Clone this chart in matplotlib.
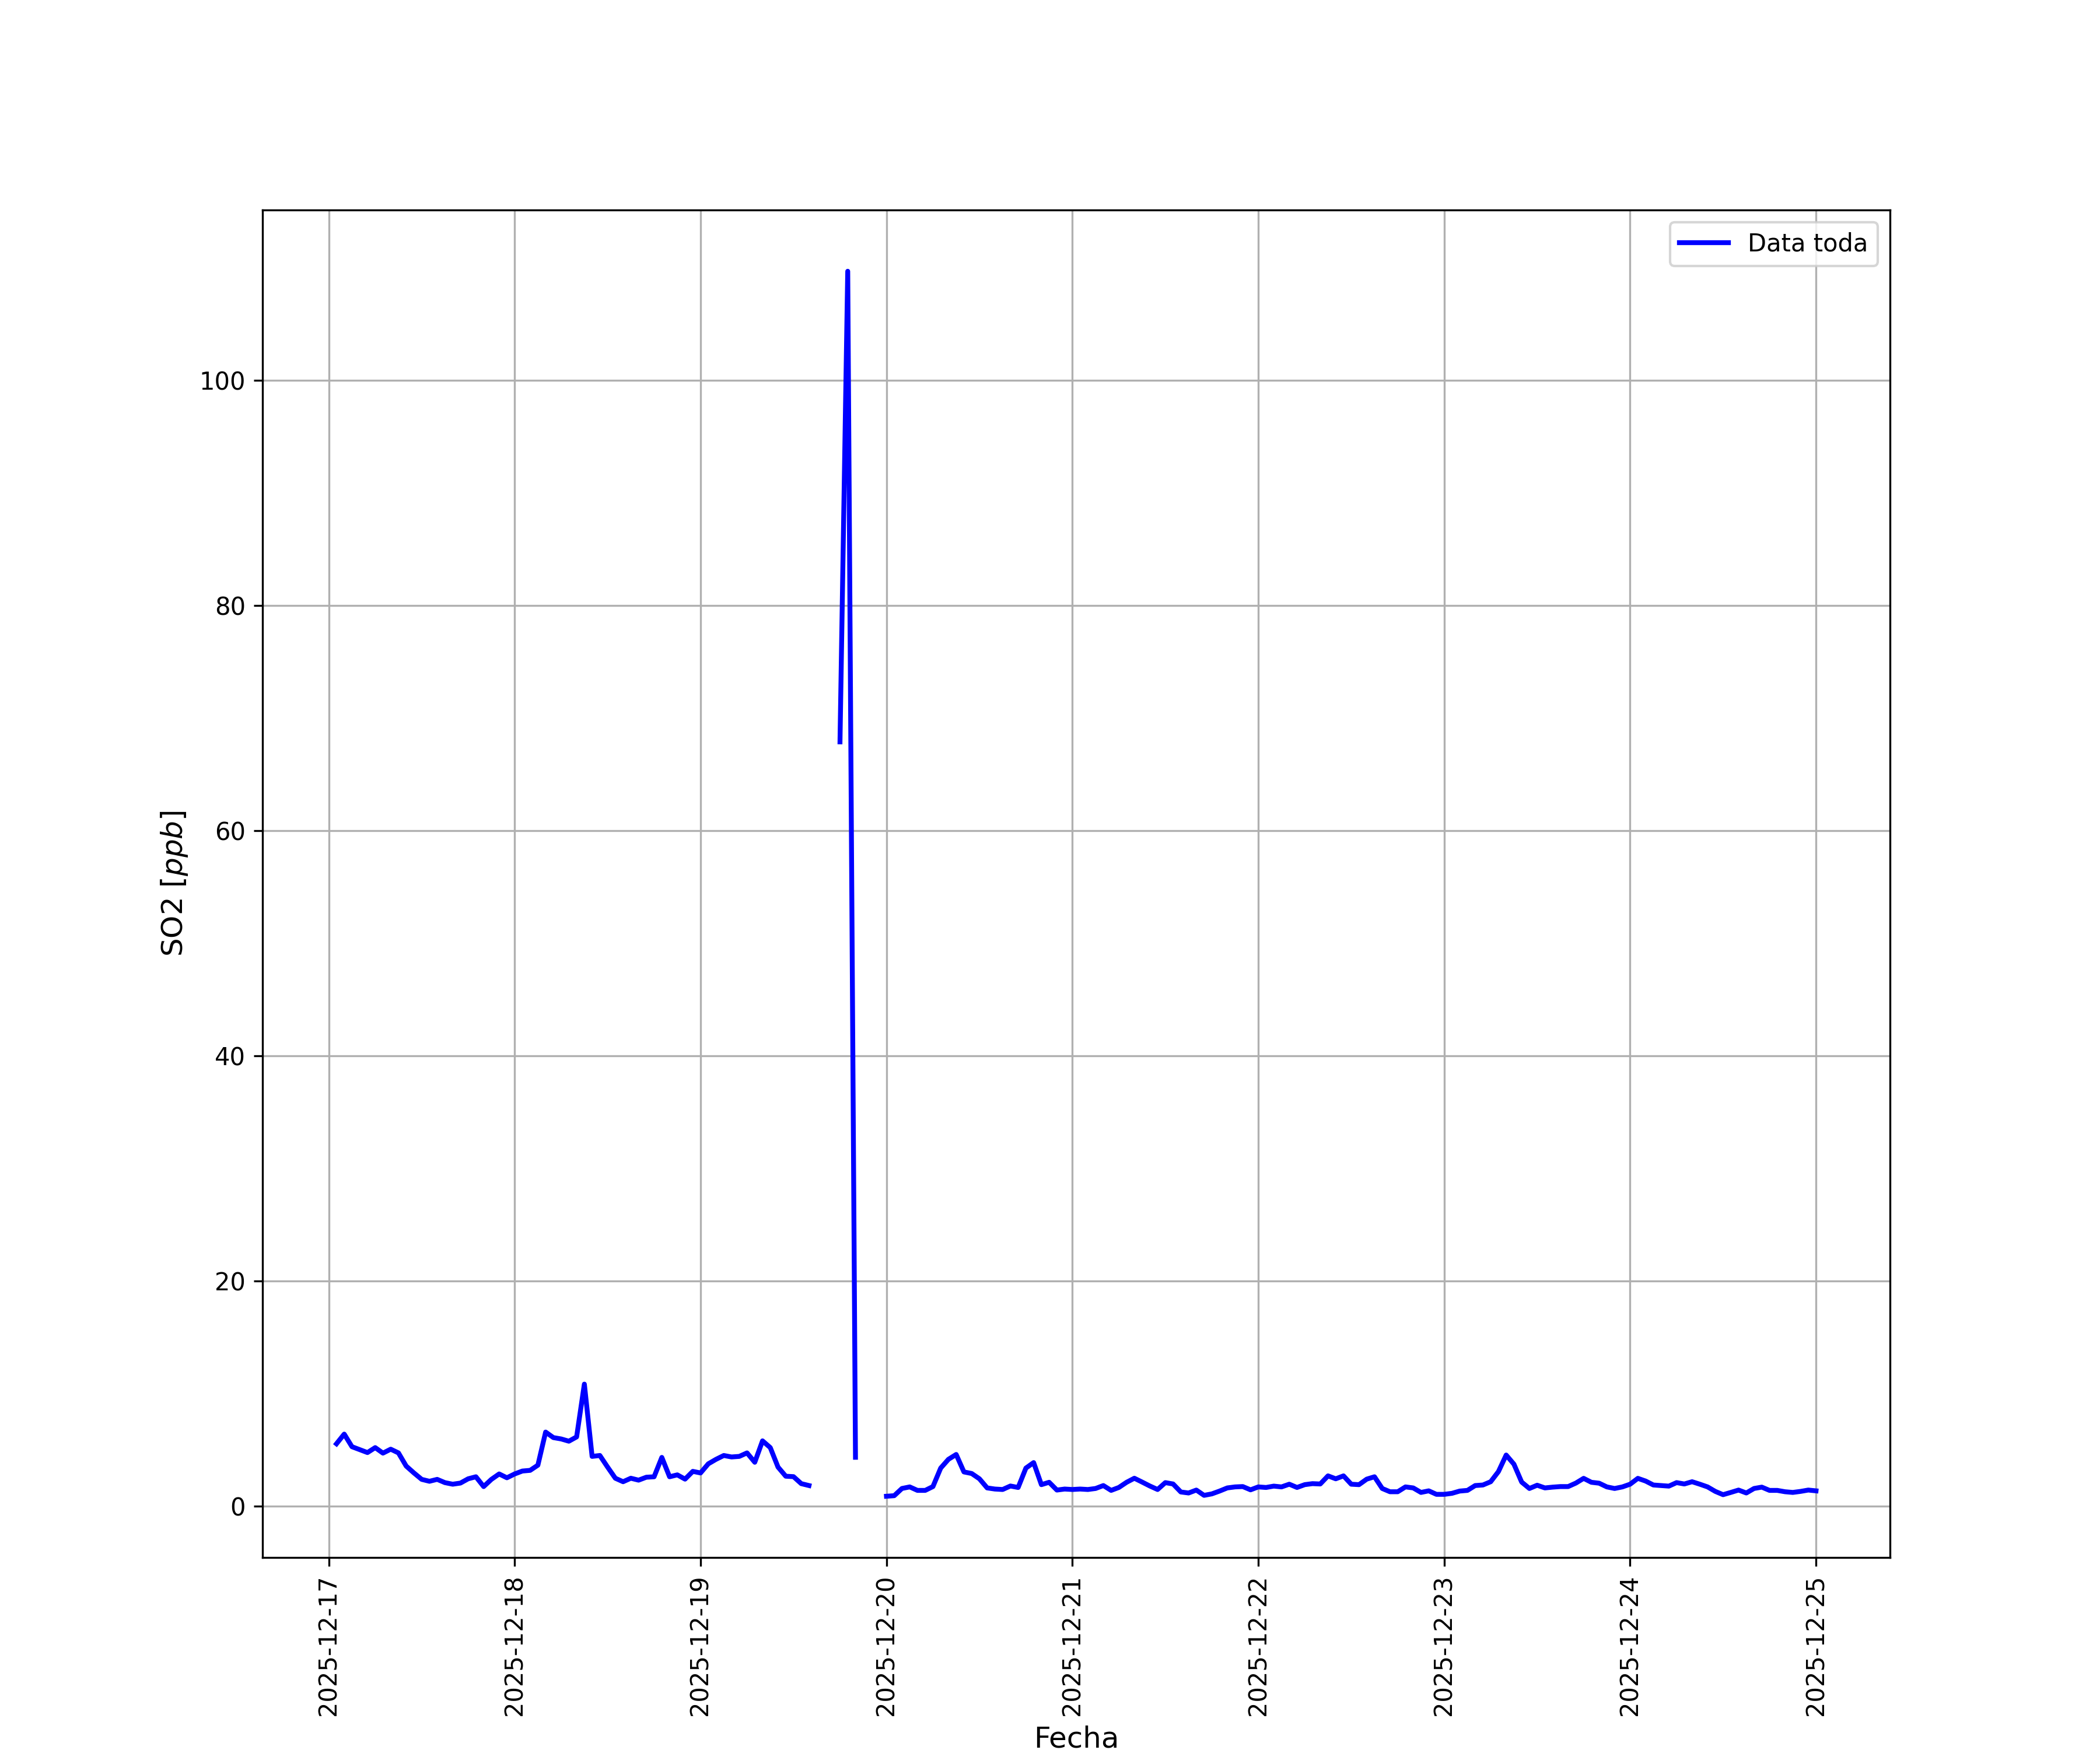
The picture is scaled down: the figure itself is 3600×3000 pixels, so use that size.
import numpy as np
import pandas as pd
import matplotlib
matplotlib.use("Agg")
import matplotlib.pyplot as plt
import matplotlib.dates as mdates

# Hourly SO2 readings [ppb], 2025-12-17 01:00 .. 2025-12-25 00:00 (NaN = missing)
day17 = [5.56, 6.42, 5.30, 5.04, 4.78, 5.22, 4.73, 5.08, 4.75, 3.58, 2.97, 2.40,
         2.23, 2.40, 2.11, 1.97, 2.07, 2.45, 2.63, 1.76, 2.40, 2.88, 2.54]
day18 = [2.88, 3.14, 3.20, 3.66, 6.60, 6.11, 5.99, 5.79, 6.17, 10.86, 4.44, 4.52,
         3.49, 2.50, 2.19, 2.50, 2.33, 2.59, 2.63, 4.35, 2.63, 2.80, 2.42, 3.11]
day19 = [2.97, 3.78, 4.18, 4.52, 4.39, 4.44, 4.75, 3.92, 5.82, 5.22, 3.49, 2.68,
         2.64, 2.02, 1.85, np.nan, np.nan, np.nan, 67.9, 109.7, 4.36, np.nan, np.nan, np.nan]
day20 = [0.90, 0.95, 1.59, 1.73, 1.42, 1.42, 1.76, 3.40, 4.18, 4.61, 3.06, 2.92,
         2.45, 1.64, 1.54, 1.50, 1.81, 1.68, 3.40, 3.89, 1.93, 2.14, 1.45, 1.54]
day21 = [1.50, 1.54, 1.50, 1.59, 1.85, 1.42, 1.68, 2.14, 2.50, 2.16, 1.81, 1.50,
         2.11, 1.99, 1.28, 1.19, 1.45, 0.98, 1.11, 1.36, 1.64, 1.73, 1.76, 1.47]
day22 = [1.73, 1.68, 1.80, 1.73, 1.97, 1.68, 1.93, 2.02, 1.99, 2.71, 2.45, 2.71,
         1.97, 1.93, 2.42, 2.63, 1.59, 1.30, 1.30, 1.73, 1.64, 1.24, 1.38, 1.07]
day23 = [1.07, 1.16, 1.36, 1.42, 1.85, 1.90, 2.19, 3.09, 4.56, 3.75, 2.16, 1.59,
         1.88, 1.64, 1.71, 1.76, 1.76, 2.07, 2.49, 2.14, 2.06, 1.73, 1.59, 1.73]
day24 = [1.97, 2.49, 2.25, 1.90, 1.85, 1.80, 2.11, 1.99, 2.19, 1.97, 1.73, 1.33,
         1.04, 1.24, 1.45, 1.19, 1.59, 1.71, 1.42, 1.42, 1.30, 1.24, 1.33, 1.45]
day25 = [1.38]

so2 = day17 + day18 + day19 + day20 + day21 + day22 + day23 + day24 + day25
fechas = pd.date_range("2025-12-17 01:00", periods=len(so2), freq="h")

fig, ax = plt.subplots(figsize=(12, 10), dpi=300)
ax.plot(fechas, so2, color="blue", linewidth=2, label="Data toda")
ax.xaxis.set_major_locator(mdates.DayLocator())
ax.xaxis.set_major_formatter(mdates.DateFormatter("%Y-%m-%d"))
plt.setp(ax.get_xticklabels(), rotation=90)
ax.grid(True)
ax.set_xlabel("Fecha", fontsize=12)
ax.set_ylabel("SO2 [$ppb$]", fontsize=12)
ax.legend(loc="upper right")
fig.savefig("out.png", dpi=300)
